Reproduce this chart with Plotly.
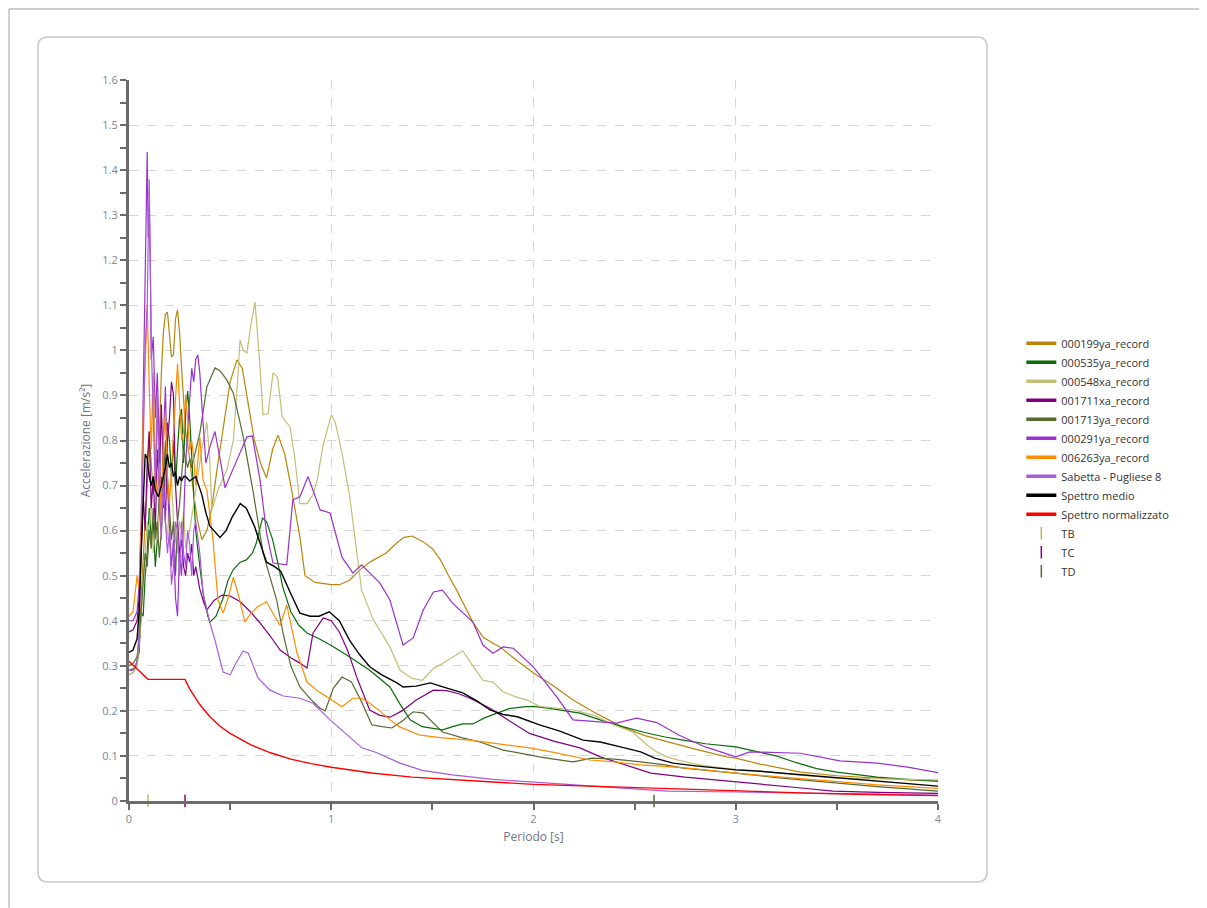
import plotly.graph_objects as go

# ---------------- DATA (period [s], acceleration [m/s²]) ----------------
S_000199ya = [(0,0.28),(0.02,0.285),(0.04,0.30),(0.05,0.35),(0.06,0.45),(0.07,0.55),(0.08,0.62),(0.09,0.70),
    (0.10,0.82),(0.11,0.75),(0.12,0.68),(0.13,0.72),(0.14,0.85),(0.15,0.80),(0.16,0.95),(0.17,1.04),(0.18,1.08),
    (0.19,1.085),(0.20,1.03),(0.21,0.985),(0.22,0.99),(0.23,1.07),(0.24,1.09),(0.25,1.04),(0.26,0.96),(0.27,0.88),
    (0.28,0.82),(0.30,0.76),(0.32,0.68),(0.34,0.62),(0.36,0.58),(0.385,0.60),(0.41,0.652),(0.435,0.735),(0.465,0.823),
    (0.50,0.93),(0.534,0.979),(0.56,0.96),(0.59,0.88),(0.62,0.80),(0.65,0.75),(0.68,0.717),(0.71,0.78),(0.737,0.812),
    (0.77,0.77),(0.80,0.70),(0.845,0.586),(0.87,0.50),(0.92,0.485),(0.96,0.483),(1.0,0.48),(1.04,0.48),(1.09,0.49),
    (1.142,0.513),(1.19,0.53),(1.226,0.539),(1.27,0.55),(1.325,0.573),(1.36,0.585),(1.40,0.588),(1.455,0.575),
    (1.50,0.56),(1.54,0.535),(1.58,0.50),(1.62,0.468),(1.70,0.397),(1.75,0.364),(1.80,0.35),(1.834,0.342),
    (1.90,0.318),(2.0,0.284),(2.1,0.255),(2.195,0.224),(2.3,0.197),(2.44,0.164),(2.55,0.145),(2.69,0.128),
    (2.8,0.115),(2.955,0.098),(3.0,0.095),(3.12,0.082),(3.32,0.064),(3.5,0.056),(3.7,0.05),(3.85,0.047),(4.0,0.044)]

S_000535ya = [(0,0.29),(0.03,0.295),(0.05,0.33),(0.06,0.42),(0.07,0.41),(0.08,0.50),(0.09,0.55),(0.10,0.65),
    (0.11,0.58),(0.12,0.62),(0.13,0.52),(0.14,0.58),(0.15,0.68),(0.16,0.72),(0.17,0.65),(0.18,0.75),(0.19,0.84),
    (0.20,0.80),(0.21,0.72),(0.22,0.80),(0.23,0.70),(0.24,0.78),(0.25,0.85),(0.26,0.87),(0.27,0.75),(0.28,0.86),
    (0.29,0.91),(0.30,0.85),(0.31,0.76),(0.32,0.68),(0.33,0.60),(0.35,0.52),(0.37,0.45),(0.39,0.41),(0.40,0.397),
    (0.43,0.41),(0.465,0.45),(0.49,0.49),(0.515,0.513),(0.55,0.53),(0.58,0.535),(0.61,0.55),(0.63,0.573),
    (0.65,0.61),(0.66,0.628),(0.68,0.62),(0.71,0.58),(0.74,0.52),(0.76,0.475),(0.80,0.42),(0.84,0.39),
    (0.88,0.373),(0.94,0.36),(1.0,0.345),(1.09,0.32),(1.19,0.29),(1.29,0.253),(1.34,0.215),(1.39,0.18),
    (1.45,0.165),(1.55,0.158),(1.60,0.165),(1.65,0.171),(1.70,0.171),(1.76,0.185),(1.82,0.195),(1.88,0.205),
    (1.95,0.209),(2.0,0.21),(2.07,0.206),(2.15,0.201),(2.23,0.195),(2.33,0.18),(2.44,0.165),(2.55,0.152),
    (2.65,0.142),(2.74,0.135),(2.85,0.127),(3.0,0.12),(3.1,0.11),(3.2,0.10),(3.3,0.085),(3.4,0.072),(3.5,0.064),
    (3.6,0.058),(3.7,0.053),(3.85,0.048),(4.0,0.044)]

S_000548xa = [(0,0.28),(0.02,0.285),(0.04,0.30),(0.05,0.35),(0.06,0.40),(0.07,0.50),(0.08,0.55),(0.09,0.62),
    (0.10,0.60),(0.11,0.68),(0.12,0.55),(0.13,0.62),(0.14,0.58),(0.15,0.65),(0.16,0.60),(0.17,0.70),(0.18,0.62),
    (0.19,0.58),(0.20,0.68),(0.21,0.72),(0.22,0.62),(0.23,0.58),(0.24,0.55),(0.25,0.62),(0.26,0.60),(0.27,0.64),
    (0.28,0.56),(0.30,0.60),(0.32,0.66),(0.34,0.72),(0.36,0.78),(0.385,0.84),(0.40,0.75),(0.41,0.646),(0.44,0.69),
    (0.484,0.735),(0.516,0.80),(0.535,0.92),(0.549,1.023),(0.565,1.0),(0.583,0.994),(0.60,1.05),(0.623,1.107),
    (0.645,0.98),(0.663,0.857),(0.688,0.86),(0.712,0.95),(0.735,0.94),(0.757,0.853),(0.796,0.83),(0.82,0.76),
    (0.845,0.66),(0.88,0.66),(0.91,0.68),(0.93,0.712),(0.96,0.79),(1.0,0.857),(1.02,0.84),(1.053,0.772),
    (1.09,0.68),(1.12,0.57),(1.15,0.468),(1.208,0.402),(1.25,0.37),(1.29,0.342),(1.34,0.29),(1.40,0.272),
    (1.45,0.268),(1.505,0.294),(1.55,0.305),(1.60,0.32),(1.65,0.333),(1.70,0.30),(1.75,0.268),(1.80,0.264),
    (1.85,0.242),(1.92,0.23),(1.97,0.224),(2.03,0.21),(2.1,0.207),(2.2,0.202),(2.3,0.19),(2.4,0.168),
    (2.49,0.153),(2.56,0.125),(2.61,0.109),(2.66,0.098),(2.72,0.09),(2.8,0.082),(2.9,0.075),(3.0,0.07),
    (3.12,0.067),(3.3,0.058),(3.48,0.051),(3.7,0.049),(4.0,0.047)]

S_001711xa = [(0,0.375),(0.02,0.38),(0.04,0.40),(0.05,0.45),(0.06,0.55),(0.07,0.68),(0.08,0.60),(0.09,0.75),
    (0.10,0.82),(0.11,0.65),(0.12,0.72),(0.13,0.60),(0.14,0.78),(0.15,0.70),(0.16,0.88),(0.17,0.72),(0.18,0.62),
    (0.19,0.80),(0.20,0.85),(0.21,0.93),(0.22,0.90),(0.23,0.70),(0.24,0.62),(0.25,0.55),(0.26,0.58),(0.27,0.52),
    (0.28,0.50),(0.29,0.55),(0.30,0.53),(0.31,0.57),(0.32,0.50),(0.33,0.52),(0.35,0.47),(0.37,0.44),(0.385,0.424),
    (0.42,0.445),(0.46,0.457),(0.50,0.455),(0.55,0.442),(0.60,0.42),(0.648,0.395),(0.70,0.365),(0.747,0.335),
    (0.80,0.318),(0.845,0.306),(0.88,0.295),(0.91,0.373),(0.96,0.406),(1.0,0.40),(1.04,0.375),(1.08,0.335),
    (1.13,0.27),(1.19,0.202),(1.24,0.19),(1.29,0.186),(1.35,0.20),(1.42,0.224),(1.505,0.246),(1.57,0.245),
    (1.63,0.238),(1.686,0.228),(1.785,0.206),(1.88,0.178),(1.98,0.15),(2.1,0.133),(2.23,0.118),(2.33,0.098),
    (2.45,0.08),(2.58,0.062),(2.75,0.053),(2.955,0.045),(3.1,0.038),(3.3,0.03),(3.48,0.022),(3.7,0.019),(4.0,0.017)]

S_001713ya = [(0,0.30),(0.02,0.305),(0.04,0.32),(0.05,0.36),(0.06,0.42),(0.07,0.48),(0.08,0.55),(0.09,0.52),
    (0.10,0.60),(0.11,0.56),(0.12,0.65),(0.13,0.58),(0.14,0.62),(0.15,0.54),(0.16,0.60),(0.17,0.70),(0.18,0.80),
    (0.19,0.72),(0.20,0.66),(0.21,0.58),(0.22,0.62),(0.23,0.50),(0.24,0.62),(0.25,0.66),(0.26,0.72),(0.27,0.78),
    (0.28,0.76),(0.29,0.74),(0.30,0.76),(0.31,0.74),(0.32,0.76),(0.35,0.816),(0.385,0.919),(0.425,0.961),
    (0.45,0.955),(0.484,0.934),(0.516,0.905),(0.565,0.808),(0.615,0.683),(0.663,0.55),(0.73,0.446),(0.763,0.37),
    (0.80,0.30),(0.845,0.253),(0.90,0.225),(0.945,0.206),(0.97,0.20),(1.01,0.25),(1.053,0.275),(1.10,0.264),
    (1.15,0.22),(1.20,0.169),(1.25,0.165),(1.30,0.162),(1.35,0.177),(1.405,0.198),(1.455,0.195),(1.50,0.175),
    (1.55,0.153),(1.65,0.14),(1.735,0.131),(1.85,0.113),(1.95,0.104),(2.03,0.098),(2.1,0.093),(2.195,0.087),
    (2.29,0.095),(2.4,0.093),(2.53,0.087),(2.65,0.08),(2.74,0.073),(2.86,0.068),(3.0,0.062),(3.2,0.052),
    (3.48,0.04),(3.7,0.032),(4.0,0.022)]

S_000291ya = [(0,0.40),(0.02,0.40),(0.04,0.42),(0.05,0.48),(0.06,0.62),(0.07,0.90),(0.08,1.14),(0.085,1.30),
    (0.09,1.44),(0.095,1.25),(0.10,1.32),(0.105,1.20),(0.11,0.98),(0.12,1.03),(0.13,0.85),(0.14,0.95),(0.15,0.75),
    (0.16,0.62),(0.17,0.80),(0.18,0.92),(0.19,0.70),(0.20,0.60),(0.21,0.52),(0.22,0.58),(0.23,0.45),(0.24,0.41),
    (0.25,0.55),(0.26,0.50),(0.27,0.62),(0.28,0.75),(0.29,0.82),(0.30,0.90),(0.31,0.96),(0.32,0.93),(0.33,0.98),
    (0.34,0.99),(0.35,0.95),(0.36,0.88),(0.37,0.82),(0.38,0.75),(0.40,0.786),(0.425,0.82),(0.45,0.76),
    (0.475,0.695),(0.534,0.757),(0.583,0.808),(0.61,0.81),(0.648,0.712),(0.68,0.595),(0.712,0.528),(0.78,0.524),
    (0.81,0.668),(0.845,0.675),(0.885,0.72),(0.945,0.646),(0.994,0.639),(1.053,0.541),(1.107,0.506),(1.15,0.524),
    (1.24,0.484),(1.29,0.446),(1.355,0.346),(1.405,0.362),(1.455,0.424),(1.505,0.464),(1.55,0.468),(1.60,0.439),
    (1.70,0.397),(1.75,0.346),(1.80,0.328),(1.85,0.342),(1.90,0.339),(2.0,0.297),(2.115,0.231),(2.195,0.18),
    (2.28,0.177),(2.41,0.173),(2.51,0.184),(2.61,0.174),(2.72,0.146),(2.85,0.12),(3.0,0.098),(3.07,0.109),
    (3.32,0.106),(3.515,0.089),(3.70,0.084),(3.85,0.075),(4.0,0.063)]

S_006263ya = [(0,0.41),(0.02,0.42),(0.03,0.46),(0.04,0.50),(0.05,0.47),(0.06,0.60),(0.07,0.85),(0.08,1.0),
    (0.09,1.10),(0.10,0.92),(0.11,0.78),(0.12,0.95),(0.13,0.72),(0.14,0.68),(0.15,0.75),(0.16,0.62),(0.17,0.80),
    (0.18,0.86),(0.19,0.72),(0.20,0.66),(0.21,0.74),(0.22,0.82),(0.23,0.90),(0.24,0.97),(0.25,0.88),(0.26,0.80),
    (0.27,0.82),(0.28,0.90),(0.29,0.85),(0.30,0.78),(0.31,0.80),(0.32,0.76),(0.33,0.70),(0.35,0.808),(0.366,0.712),
    (0.385,0.69),(0.415,0.58),(0.44,0.446),(0.465,0.417),(0.49,0.45),(0.516,0.497),(0.545,0.45),(0.573,0.397),
    (0.60,0.415),(0.633,0.43),(0.68,0.442),(0.72,0.41),(0.747,0.39),(0.78,0.435),(0.81,0.37),(0.83,0.33),
    (0.88,0.264),(0.93,0.245),(0.98,0.231),(1.053,0.209),(1.107,0.228),(1.15,0.228),(1.19,0.217),(1.24,0.20),
    (1.29,0.18),(1.34,0.164),(1.44,0.146),(1.55,0.14),(1.686,0.135),(1.85,0.126),(1.98,0.118),(2.1,0.108),
    (2.28,0.091),(2.4,0.087),(2.53,0.08),(2.74,0.074),(2.94,0.064),(3.0,0.062),(3.2,0.054),(3.48,0.044),
    (3.7,0.036),(4.0,0.028)]

S_sabetta = [(0,0.29),(0.02,0.29),(0.04,0.31),(0.05,0.38),(0.06,0.55),(0.07,0.75),(0.08,1.0),(0.09,1.10),
    (0.10,1.38),(0.105,1.20),(0.11,1.02),(0.12,0.85),(0.13,0.70),(0.14,0.90),(0.15,0.65),(0.16,0.58),(0.17,0.72),
    (0.18,0.62),(0.19,0.55),(0.20,0.60),(0.21,0.48),(0.22,0.52),(0.23,0.62),(0.24,0.60),(0.25,0.50),(0.26,0.62),
    (0.27,0.55),(0.28,0.52),(0.29,0.60),(0.30,0.57),(0.31,0.50),(0.32,0.60),(0.33,0.62),(0.35,0.55),(0.366,0.462),
    (0.40,0.395),(0.425,0.357),(0.465,0.286),(0.50,0.28),(0.524,0.302),(0.564,0.333),(0.59,0.328),(0.638,0.273),
    (0.697,0.246),(0.763,0.233),(0.845,0.228),(0.91,0.217),(0.994,0.18),(1.078,0.146),(1.152,0.118),(1.226,0.107),
    (1.34,0.084),(1.45,0.068),(1.6,0.058),(1.8,0.048),(2.0,0.042),(2.2,0.036),(2.4,0.031),(2.66,0.022),
    (3.0,0.02),(3.48,0.017),(4.0,0.013)]

S_medio = [(0,0.33),(0.02,0.335),(0.04,0.36),(0.05,0.42),(0.06,0.55),(0.07,0.68),(0.08,0.77),(0.09,0.76),
    (0.10,0.72),(0.11,0.70),(0.12,0.72),(0.13,0.69),(0.145,0.675),(0.16,0.70),(0.17,0.72),(0.18,0.74),(0.19,0.77),
    (0.20,0.74),(0.21,0.75),(0.22,0.72),(0.23,0.73),(0.24,0.70),(0.25,0.72),(0.26,0.71),(0.27,0.72),(0.28,0.72),
    (0.30,0.71),(0.33,0.72),(0.36,0.68),(0.38,0.64),(0.40,0.61),(0.42,0.60),(0.45,0.585),(0.48,0.60),(0.51,0.63),
    (0.55,0.66),(0.58,0.65),(0.62,0.61),(0.65,0.57),(0.68,0.53),(0.72,0.52),(0.75,0.51),(0.80,0.46),(0.845,0.417),
    (0.895,0.41),(0.94,0.41),(0.99,0.42),(1.04,0.40),(1.09,0.357),(1.14,0.325),(1.19,0.298),(1.25,0.28),
    (1.325,0.262),(1.355,0.253),(1.42,0.255),(1.49,0.262),(1.56,0.252),(1.65,0.24),(1.72,0.222),(1.785,0.202),
    (1.85,0.192),(1.92,0.187),(2.03,0.169),(2.13,0.155),(2.245,0.135),(2.33,0.131),(2.43,0.12),(2.53,0.109),
    (2.6,0.095),(2.69,0.084),(2.8,0.078),(3.0,0.069),(3.12,0.066),(3.3,0.059),(3.52,0.051),(3.75,0.042),(4.0,0.033)]

S_normalizzato = [(0,0.31),(0.094,0.27),(0.277,0.27),(0.30,0.249),(0.35,0.214),(0.40,0.187),(0.45,0.166),
    (0.50,0.15),(0.60,0.125),(0.70,0.107),(0.80,0.093),(0.90,0.083),(1.0,0.075),(1.2,0.062),(1.4,0.053),
    (1.6,0.047),(1.8,0.042),(2.0,0.037),(2.2,0.034),(2.4,0.031),(2.596,0.029),(2.8,0.025),(3.0,0.022),
    (3.2,0.019),(3.4,0.017),(3.6,0.015),(3.8,0.013),(4.0,0.012)]

names = ["000199ya_record", "000535ya_record", "000548xa_record", "001711xa_record", "001713ya_record",
         "000291ya_record", "006263ya_record", "Sabetta - Pugliese 8", "Spettro medio", "Spettro normalizzato"]
series = [S_000199ya, S_000535ya, S_000548xa, S_001711xa, S_001713ya,
          S_000291ya, S_006263ya, S_sabetta, S_medio, S_normalizzato]
colors = ["#B8860B", "#0B6B0B", "#C4BE78", "#800080", "#556B2F",
          "#9932CC", "#FF8C00", "#A95CD8", "#000000", "#FF0000"]
widths = [1.2, 1.2, 1.2, 1.2, 1.2, 1.2, 1.2, 1.2, 1.4, 1.4]

period_names = ["TB", "TC", "TD"]
period_values = [0.094, 0.277, 2.596]
period_colors = ["#BDB76B", "#800080", "#556B2F"]

# ---------------- FIGURE ----------------
fig = go.Figure()
for n, s, c, w in zip(names, series, colors, widths):
    fig.add_trace(go.Scatter(x=[p[0] for p in s], y=[p[1] for p in s], mode="lines", name=n,
                             line=dict(color=c, width=w), legendgroup=n, showlegend=False))
# legend entries with thick sample lines
for n, c in zip(names, colors):
    fig.add_trace(go.Scatter(x=[None], y=[None], mode="lines", name=n, legendgroup=n,
                             line=dict(color=c, width=3.5), showlegend=True))
for n, v, c in zip(period_names, period_values, period_colors):
    fig.add_trace(go.Scatter(x=[v], y=[0], mode="markers", name=n, cliponaxis=False,
                             marker=dict(symbol="line-ns", size=9, line=dict(color=c, width=1.5))))

font_family = "Open Sans, DejaVu Sans, sans-serif"
tick_font = dict(family=font_family, size=11, color="#7c8698")

xl, xr, yb, yt = -0.11248, 1.06056, -0.11234, 1.05964
rx, ry = 0.01236, 0.01387
frame_path = (f"M {xl+rx},{yb} L {xr-rx},{yb} Q {xr},{yb} {xr},{yb+ry} L {xr},{yt-ry} Q {xr},{yt} {xr-rx},{yt} "
              f"L {xl+rx},{yt} Q {xl},{yt} {xl},{yt-ry} L {xl},{yb+ry} Q {xl},{yb} {xl+rx},{yb} Z")

fig.update_layout(
    width=1199, height=900,
    margin=dict(l=121, r=269, t=72, b=107),
    paper_bgcolor="white", plot_bgcolor="white",
    font=dict(family=font_family, size=12, color="#333333"),
    showlegend=True,
    legend=dict(x=1.103, y=0.655, xanchor="left", yanchor="top", bgcolor="rgba(0,0,0,0)",
                font=dict(family=font_family, size=11, color="#333333"), tracegroupgap=0,
                itemwidth=30),
    shapes=[
        dict(type="path", xref="paper", yref="paper", path=frame_path,
             line=dict(color="#c8c8c8", width=1.5), layer="below"),
        dict(type="line", xref="paper", yref="paper", x0=-0.1483, x1=1.33, y0=1.0985, y1=1.0985,
             line=dict(color="#a0a0a0", width=1)),
        dict(type="line", xref="paper", yref="paper", x0=-0.1483, x1=-0.1483, y0=1.0985, y1=-0.148,
             line=dict(color="#a0a0a0", width=1)),
    ],
)

fig.update_xaxes(
    range=[0, 4], dtick=1, tick0=0, showline=True, linecolor="#6b6b6b", linewidth=3,
    ticks="outside", ticklen=6, tickwidth=2, tickcolor="#6b6b6b",
    showgrid=True, gridcolor="#d6d6d6", griddash="dash", gridwidth=1, zeroline=False,
    minor=dict(dtick=0.5, ticks="outside", ticklen=6, tickwidth=2, tickcolor="#6b6b6b", showgrid=False),
    tickfont=tick_font,
    title=dict(text="Periodo [s]", font=dict(family=font_family, size=12, color="#6e7585"), standoff=8),
)
fig.update_yaxes(
    range=[0, 1.6], dtick=0.1, tick0=0, showline=True, linecolor="#6b6b6b", linewidth=3,
    ticks="outside", ticklen=6, tickwidth=2, tickcolor="#6b6b6b",
    showgrid=True, gridcolor="#d6d6d6", griddash="dash", gridwidth=1, zeroline=False,
    minor=dict(dtick=0.05, ticks="outside", ticklen=6, tickwidth=2, tickcolor="#6b6b6b", showgrid=False),
    tickfont=tick_font,
    title=dict(text="Accelerazione [m/s²]", font=dict(family=font_family, size=12, color="#6e7585"), standoff=10),
)

fig.write_html("out.html")
